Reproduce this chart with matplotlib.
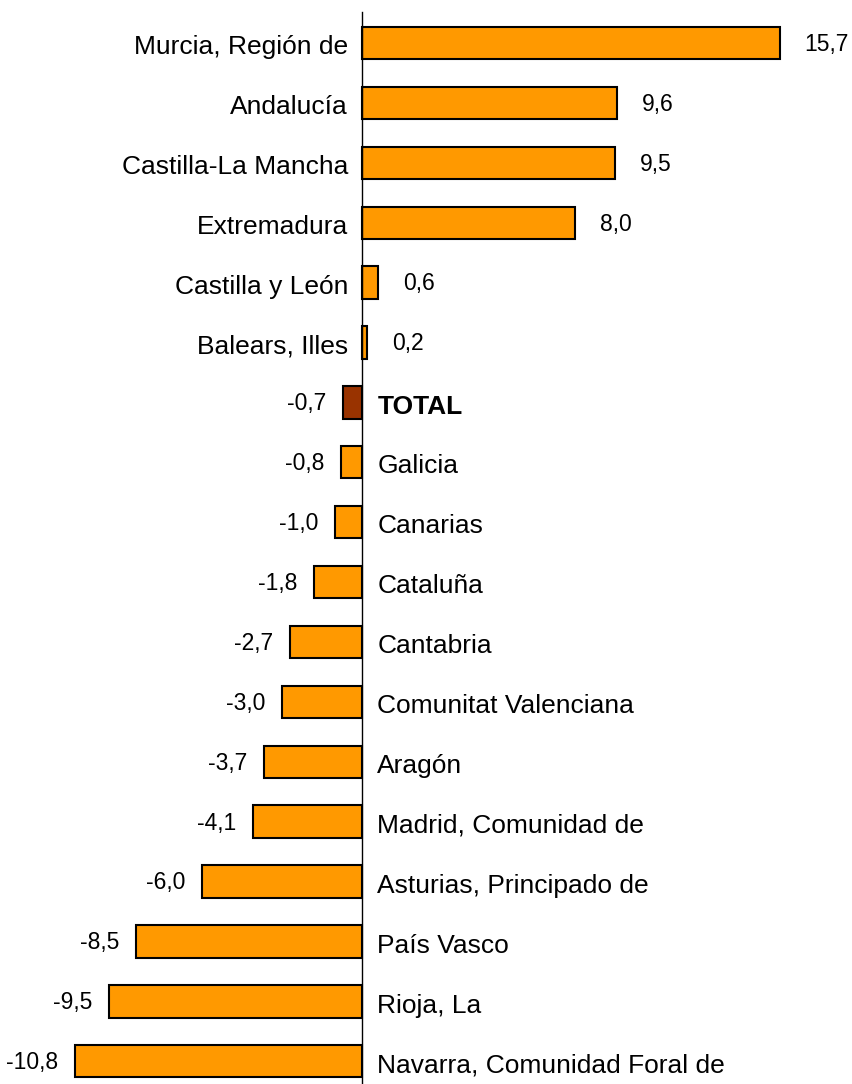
import numpy as np
import matplotlib.pyplot as plt

plt.rcParams['font.family'] = ['Liberation Sans', 'DejaVu Sans']

regiones = ['Murcia, Región de', 'Andalucía', 'Castilla-La Mancha', 'Extremadura',
            'Castilla y León', 'Balears, Illes', 'TOTAL', 'Galicia', 'Canarias',
            'Cataluña', 'Cantabria', 'Comunitat Valenciana', 'Aragón',
            'Madrid, Comunidad de', 'Asturias, Principado de', 'País Vasco',
            'Rioja, La', 'Navarra, Comunidad Foral de']
valores = [15.7, 9.6, 9.5, 8.0, 0.6, 0.2, -0.7, -0.8, -1.0, -1.8, -2.7, -3.0,
           -3.7, -4.1, -6.0, -8.5, -9.5, -10.8]

naranja = '#FF9900'
marron = '#993300'

fig = plt.figure(figsize=(8.53, 10.84), dpi=100)
ax = fig.add_axes([0, 0, 1, 1])

y = np.arange(len(regiones))
colores = [marron if r == 'TOTAL' else naranja for r in regiones]
ax.barh(y, valores, height=0.54, color=colores, edgecolor='black', linewidth=1.5, zorder=2)

ax.set_xlim(-13.61, 18.46)
ax.set_ylim(17.38, -0.718)
ax.plot([0, 0], [-0.52, 17.38], color='black', linewidth=1, zorder=3)

for yi, v, r in zip(y, valores, regiones):
    etiqueta = f'{v:.1f}'.replace('.', ',')
    peso = 'bold' if r == 'TOTAL' else 'normal'
    if v >= 0:
        ax.annotate(r, (0, yi), xytext=(-10, -3), textcoords='offset points',
                    ha='right', va='center', fontsize=19, fontweight=peso)
        ax.annotate(etiqueta, (v, yi), xytext=(18, -1), textcoords='offset points',
                    ha='left', va='center', fontsize=16.5)
    else:
        ax.annotate(r, (0, yi), xytext=(11, -3), textcoords='offset points',
                    ha='left', va='center', fontsize=19, fontweight=peso)
        ax.annotate(etiqueta, (v, yi), xytext=(-12, -1), textcoords='offset points',
                    ha='right', va='center', fontsize=16.5)

ax.axis('off')
fig.savefig('out.png', dpi=100)
